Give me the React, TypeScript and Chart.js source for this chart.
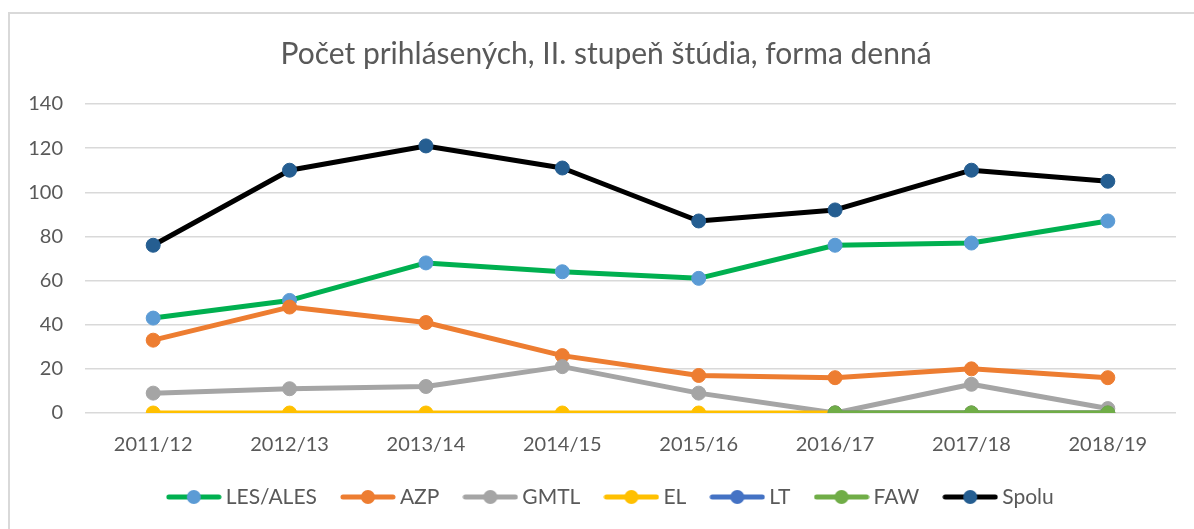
import React, { useEffect, useRef } from "react";
import { Chart, registerables } from "chart.js";

Chart.register(...registerables);

const titleText = "Počet prihlásených, II. stupeň štúdia, forma denná";
const categories = ["2011/12", "2012/13", "2013/14", "2014/15", "2015/16", "2016/17", "2017/18", "2018/19"];
const lesAles = [43, 51, 68, 64, 61, 76, 77, 87];
const azp = [33, 48, 41, 26, 17, 16, 20, 16];
const gmtl = [9, 11, 12, 21, 9, 0, 13, 2];
const el = [0, 0, 0, 0, 0, 0, 0, 0];
const lt = [null, null, null, null, null, 0, 0, 0];
const faw = [null, null, null, null, null, 0, 0, 0];
const spolu = [76, 110, 121, 111, 87, 92, 110, 105];
const yMin = 0;
const yMax = 140;
const yStep = 20;

const FONT = "Lato";
const TEXT = "#595959";

function makeIcon(lineColor: string, pointColor: string): HTMLCanvasElement {
  const c = document.createElement("canvas");
  c.width = 56;
  c.height = 16;
  const ctx = c.getContext("2d")!;
  ctx.strokeStyle = lineColor;
  ctx.lineWidth = 5;
  ctx.lineCap = "round";
  ctx.beginPath();
  ctx.moveTo(3, 8);
  ctx.lineTo(53, 8);
  ctx.stroke();
  ctx.fillStyle = pointColor;
  ctx.beginPath();
  ctx.arc(28, 8, 7, 0, Math.PI * 2);
  ctx.fill();
  return c;
}

// Shifts the title and legend boxes horizontally, as in the reference layout.
const shiftBoxes = {
  id: "shiftBoxes",
  afterLayout(chart: any) {
    if (chart.titleBlock) {
      chart.titleBlock.left += 13;
      chart.titleBlock.right += 13;
    }
    if (chart.legend) {
      chart.legend.left += 20;
      chart.legend.right += 20;
    }
  },
};

export default function App() {
  const ref = useRef<HTMLCanvasElement | null>(null);

  useEffect(() => {
    if (!ref.current) return;
    const mk = (label: string, data: (number | null)[], line: string, point: string, order: number) => ({
      label,
      data,
      borderColor: line,
      backgroundColor: point,
      pointBackgroundColor: point,
      pointBorderColor: point,
      pointBorderWidth: 1,
      pointRadius: 7,
      pointHoverRadius: 7,
      borderWidth: 5,
      borderCapStyle: "round" as const,
      borderJoinStyle: "round" as const,
      tension: 0,
      spanGaps: false,
      order,
      _icon: makeIcon(line, point),
    });
    const datasets = [
      mk("LES/ALES", lesAles, "#00B050", "#5B9BD5", 6),
      mk("AZP", azp, "#ED7D31", "#ED7D31", 5),
      mk("GMTL", gmtl, "#A5A5A5", "#A5A5A5", 4),
      mk("EL", el, "#FFC000", "#FFC000", 3),
      mk("LT", lt, "#4472C4", "#4472C4", 2),
      mk("FAW", faw, "#70AD47", "#70AD47", 1),
      mk("Spolu", spolu, "#000000", "#255E91", 0),
    ];
    const chart = new Chart(ref.current, {
      type: "line",
      data: { labels: categories, datasets: datasets as any },
      plugins: [shiftBoxes],
      options: {
        animation: false,
        responsive: false,
        maintainAspectRatio: false,
        layout: { padding: { top: 14, left: 10, right: 18, bottom: 11.5 } },
        plugins: {
          tooltip: { enabled: false },
          title: {
            display: true,
            text: titleText,
            color: TEXT,
            font: { family: FONT, size: 30, weight: "normal" as any },
            padding: { top: 22, bottom: 32 },
          },
          legend: {
            position: "bottom",
            labels: {
              usePointStyle: true,
              pointStyleWidth: 43,
              padding: 29.5,
              color: TEXT,
              font: { family: FONT, size: 21 },
              sort: (a: any, b: any) => a.datasetIndex - b.datasetIndex,
              generateLabels: (ch: any) =>
                ch.data.datasets.map((ds: any, i: number) => ({
                  text: ds.label,
                  fillStyle: ds.backgroundColor,
                  strokeStyle: ds.borderColor,
                  lineWidth: 0,
                  pointStyle: ds._icon,
                  hidden: false,
                  datasetIndex: i,
                  fontColor: TEXT,
                })),
            },
          },
        },
        scales: {
          x: {
            type: "category",
            offset: true,
            grid: { display: false, drawTicks: false },
            border: { display: false },
            ticks: {
              color: TEXT,
              font: { family: FONT, size: 20 },
              padding: 20,
              maxRotation: 0,
              autoSkip: false,
            },
            afterFit: (s: any) => {
              s.height = 44;
            },
          },
          y: {
            min: yMin,
            max: yMax,
            ticks: {
              stepSize: yStep,
              color: TEXT,
              font: { family: FONT, size: 20 },
              padding: 22,
            },
            grid: { color: "#D9D9D9", lineWidth: 1.5, drawTicks: false },
            border: { display: false },
            afterFit: (s: any) => {
              s.width = 75;
            },
          },
        },
      },
    });
    return () => chart.destroy();
  }, []);

  return (
    <>
      <div
        style={{
          position: "fixed",
          left: 8,
          top: 12,
          width: 1186,
          height: 517,
          boxSizing: "border-box",
          borderLeft: "2px solid #D9D9D9",
          borderTop: "2px solid #D9D9D9",
        }}
      />
      <canvas
        ref={ref}
        width={1194}
        height={529}
        style={{ position: "fixed", left: 0, top: 0, width: 1194, height: 529 }}
      />
    </>
  );
}
